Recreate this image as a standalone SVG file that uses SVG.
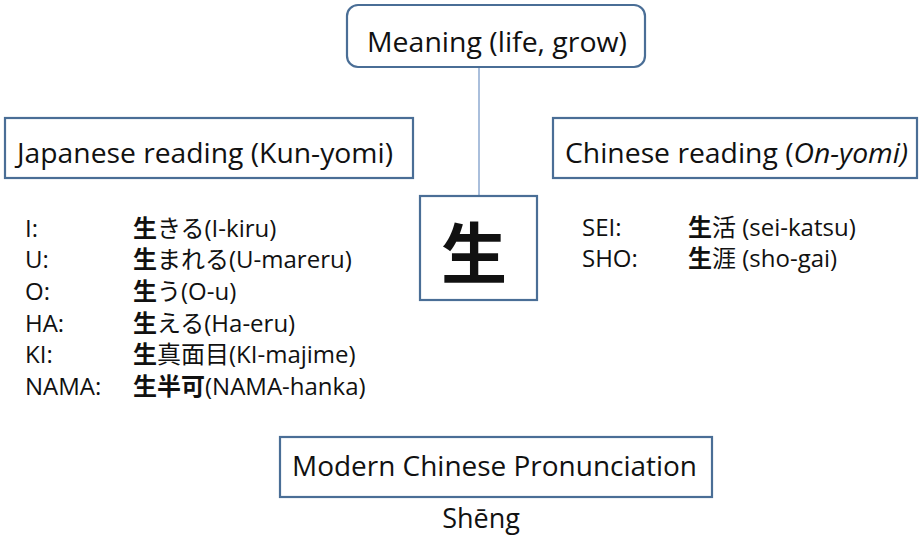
<svg xmlns="http://www.w3.org/2000/svg" width="919" height="539" viewBox="0 0 919 539">
<style>
.box{fill:#fff;stroke:#4a6e96;stroke-width:2.2}
.t{font-family:"Open Sans","Noto Sans CJK JP",sans-serif;fill:#111}
.h{font-size:27px}
.l{font-size:24px}
.k{font-weight:bold}
</style>
<rect width="919" height="539" fill="#fff"/>
<g id="connectors">
<line x1="479" y1="67" x2="479" y2="196" stroke="#8eaad0" stroke-width="1.5"/>
</g>
<g id="meaning">
<rect class="box" x="347" y="5" width="298" height="62" rx="11"/>
<text class="t h" x="367" y="52" textLength="260" lengthAdjust="spacingAndGlyphs">Meaning (life, grow)</text>
</g>
<g id="kun">
<rect class="box" x="5" y="118" width="408" height="60"/>
<text class="t h" x="17" y="163" textLength="376" lengthAdjust="spacingAndGlyphs">Japanese reading (Kun-yomi)</text>
</g>
<g id="on">
<rect class="box" x="553" y="118" width="364" height="60"/>
<text class="t h" x="565" y="163" textLength="343" lengthAdjust="spacingAndGlyphs">Chinese reading (<tspan font-style="italic">On-yomi)</tspan></text>
</g>
<g id="kanji">
<rect class="box" x="420" y="196" width="117" height="104"/>
<text class="t k" x="474" y="278" font-size="66" text-anchor="middle">生</text>
</g>
<g id="kun-list" class="t l">
<text x="25" y="237">I:</text>
<text x="25" y="268">U:</text>
<text x="25" y="300">O:</text>
<text x="25" y="332">HA:</text>
<text x="25" y="363">KI:</text>
<text x="25" y="395">NAMA:</text>
<text x="133" y="237"><tspan class="k">生</tspan>きる(I-kiru)</text>
<text x="133" y="268"><tspan class="k">生</tspan>まれる(U-mareru)</text>
<text x="133" y="300"><tspan class="k">生</tspan>う(O-u)</text>
<text x="133" y="332"><tspan class="k">生</tspan>える(Ha-eru)</text>
<text x="133" y="363"><tspan class="k">生</tspan>真面目(KI-majime)</text>
<text x="133" y="395"><tspan class="k">生半可</tspan>(NAMA-hanka)</text>
</g>
<g id="on-list" class="t l">
<text x="582" y="236">SEI:</text>
<text x="582" y="267">SHO:</text>
<text x="688" y="236"><tspan class="k">生</tspan>活 (sei-katsu)</text>
<text x="688" y="267"><tspan class="k">生</tspan>涯 (sho-gai)</text>
</g>
<g id="modern">
<rect class="box" x="280" y="437" width="432" height="60"/>
<text class="t h" x="292" y="476" textLength="405" lengthAdjust="spacingAndGlyphs">Modern Chinese Pronunciation</text>
</g>
<g id="sheng">
<text class="t h" x="481" y="528" text-anchor="middle">Shēng</text>
</g>
</svg>
